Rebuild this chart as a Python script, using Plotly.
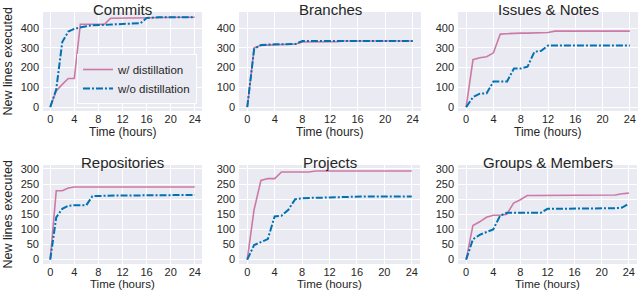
import plotly.graph_objects as go

hours = list(range(25))

titles = ["Commits", "Branches", "Issues & Notes", "Repositories", "Projects", "Groups & Members"]

commits_with = [0, 82, 115, 145, 145, 420, 420, 420, 420, 420, 450, 450, 450, 450, 450, 450, 452, 453, 454, 455, 455, 455, 455, 455, 455]
commits_without = [0, 90, 330, 383, 397, 405, 410, 415, 415, 415, 418, 420, 422, 424, 425, 425, 452, 455, 455, 455, 456, 456, 456, 456, 456]

branches_with = [0, 300, 313, 315, 316, 318, 318, 320, 330, 330, 330, 330, 330, 332, 335, 335, 335, 335, 335, 335, 335, 335, 335, 335, 335]
branches_without = [0, 295, 315, 318, 318, 318, 318, 320, 335, 335, 335, 335, 335, 335, 335, 335, 335, 335, 335, 335, 335, 335, 335, 335, 335]

issues_with = [0, 240, 250, 255, 275, 370, 372, 375, 375, 375, 375, 376, 378, 385, 385, 385, 385, 385, 385, 385, 385, 385, 385, 385, 385]
issues_without = [0, 50, 68, 70, 130, 130, 130, 195, 195, 205, 280, 285, 312, 312, 312, 312, 312, 312, 312, 312, 312, 312, 312, 312, 312]

repos_with = [0, 228, 228, 237, 240, 240, 240, 240, 240, 240, 240, 240, 240, 240, 240, 240, 240, 240, 240, 240, 240, 240, 240, 240, 240]
repos_without = [0, 140, 168, 178, 180, 180, 180, 210, 211, 211, 211, 212, 212, 212, 212, 212, 212, 214, 214, 214, 214, 214, 214, 214, 214]

projects_with = [0, 165, 262, 268, 268, 290, 290, 290, 290, 290, 293, 293, 293, 293, 293, 293, 293, 293, 293, 293, 293, 293, 293, 293, 293]
projects_without = [0, 48, 58, 68, 143, 145, 165, 200, 203, 205, 205, 205, 206, 206, 206, 207, 209, 209, 209, 209, 209, 209, 209, 209, 209]

groups_with = [0, 113, 125, 140, 147, 147, 150, 187, 198, 212, 212, 212, 212, 212, 212, 212, 212, 212, 212, 212, 212, 212, 214, 218, 220]
groups_without = [0, 67, 82, 92, 100, 145, 155, 155, 155, 155, 155, 155, 168, 168, 168, 168, 168, 168, 169, 170, 170, 170, 170, 172, 185]

series_with = [commits_with, branches_with, issues_with, repos_with, projects_with, groups_with]
series_without = [commits_without, branches_without, issues_without, repos_without, projects_without, groups_without]

x_ticks = [0, 4, 8, 12, 16, 20, 24]
y_ticks_top = [0, 100, 200, 300, 400]
y_ticks_bottom = [0, 50, 100, 150, 200, 250, 300]

PINK = "#CC79A7"
BLUE = "#0072B2"
BG = "#EAEAF2"
W, H = 640, 291
FONT = "Liberation Sans, Arial, sans-serif"
TXT = "#262626"

# pixel boxes (left, right, top, bottom)
boxes = [
    (43, 202, 12, 111), (239, 421, 12, 111), (458, 638, 12, 111),
    (43, 202, 165, 264), (239, 420, 165, 264), (458, 637, 165, 264),
]

fig = go.Figure()
layout = dict(
    width=W, height=H, margin=dict(l=0, r=0, t=0, b=0, pad=0),
    paper_bgcolor="white", plot_bgcolor=BG,
    font=dict(family=FONT, color=TXT, size=11),
    showlegend=True,
)
annotations = []

for i in range(6):
    n = i + 1
    xa = "x" if n == 1 else f"x{n}"
    ya = "y" if n == 1 else f"y{n}"
    fig.add_trace(go.Scatter(
        x=hours, y=series_with[i], mode="lines", xaxis=xa, yaxis=ya,
        name="w/ distillation", legendgroup="w", showlegend=(i == 0),
        line=dict(color=PINK, width=1.6),
    ))
    fig.add_trace(go.Scatter(
        x=hours, y=series_without[i], mode="lines", xaxis=xa, yaxis=ya,
        name="w/o distillation", legendgroup="wo", showlegend=(i == 0),
        line=dict(color=BLUE, width=2, dash="7px,2px,2px,2px"),
    ))
    l, r, t, b = boxes[i]
    top_row = i < 3
    xkey = "xaxis" if n == 1 else f"xaxis{n}"
    ykey = "yaxis" if n == 1 else f"yaxis{n}"
    layout[xkey] = dict(
        domain=[l / W, r / W], anchor=ya, range=[-1.2, 25.2],
        tickvals=x_ticks, showgrid=True, gridcolor="white", gridwidth=1,
        zeroline=False, showline=False, ticks="", tickfont=dict(size=11, color=TXT),
        ticklabelstandoff=0, automargin=False,
    )
    layout[ykey] = dict(
        domain=[1 - b / H, 1 - t / H], anchor=xa,
        range=[-20, 482] if top_row else [-14.5, 313],
        tickvals=y_ticks_top if top_row else y_ticks_bottom,
        showgrid=True, gridcolor="white", gridwidth=1,
        zeroline=False, showline=False, ticks="", tickfont=dict(size=11, color=TXT),
        ticklabelstandoff=3, automargin=False,
    )
    cx = (l + r) / 2 / W
    annotations.append(dict(
        text=titles[i], x=cx, y=1 - (t - 12) / H, xref="paper", yref="paper",
        xanchor="center", yanchor="top", borderpad=0, showarrow=False,
        font=dict(size=15, color=TXT, family=FONT),
    ))
    if top_row:
        annotations.append(dict(
            text="Time (hours)", x=cx, y=1 - (b + 21) / H,
            xref="paper", yref="paper",
            xanchor="center", yanchor="middle", borderpad=0, showarrow=False,
            font=dict(size=12, color=TXT, family=FONT),
        ))
    else:
        annotations.append(dict(
            text="Time (hours)", x=cx, y=0,
            xref="paper", yref="paper",
            xanchor="center", yanchor="bottom", borderpad=0, showarrow=False,
            font=dict(size=11.5, color=TXT, family=FONT),
        ))
    if i in (0, 3):
        annotations.append(dict(
            text="New lines executed", x=7 / W, y=1 - (t + b) / 2 / H,
            xref="paper", yref="paper", xanchor="center", yanchor="middle",
            textangle=-90, showarrow=False,
            font=dict(size=12.5, color=TXT, family=FONT),
        ))

layout["annotations"] = annotations
layout["legend"] = dict(
    x=197 / W, y=1 - 104 / H, xanchor="right", yanchor="bottom",
    bgcolor=BG, bordercolor="rgba(255,255,255,0.9)", borderwidth=1,
    font=dict(size=11.5, color=TXT, family=FONT),
    tracegroupgap=0, itemwidth=30,
)
fig.update_layout(**layout)
fig.write_html(
    "out.html",
    config={"displayModeBar": False},
    post_script="document.body.style.margin='0';document.body.style.padding='0';",
)
